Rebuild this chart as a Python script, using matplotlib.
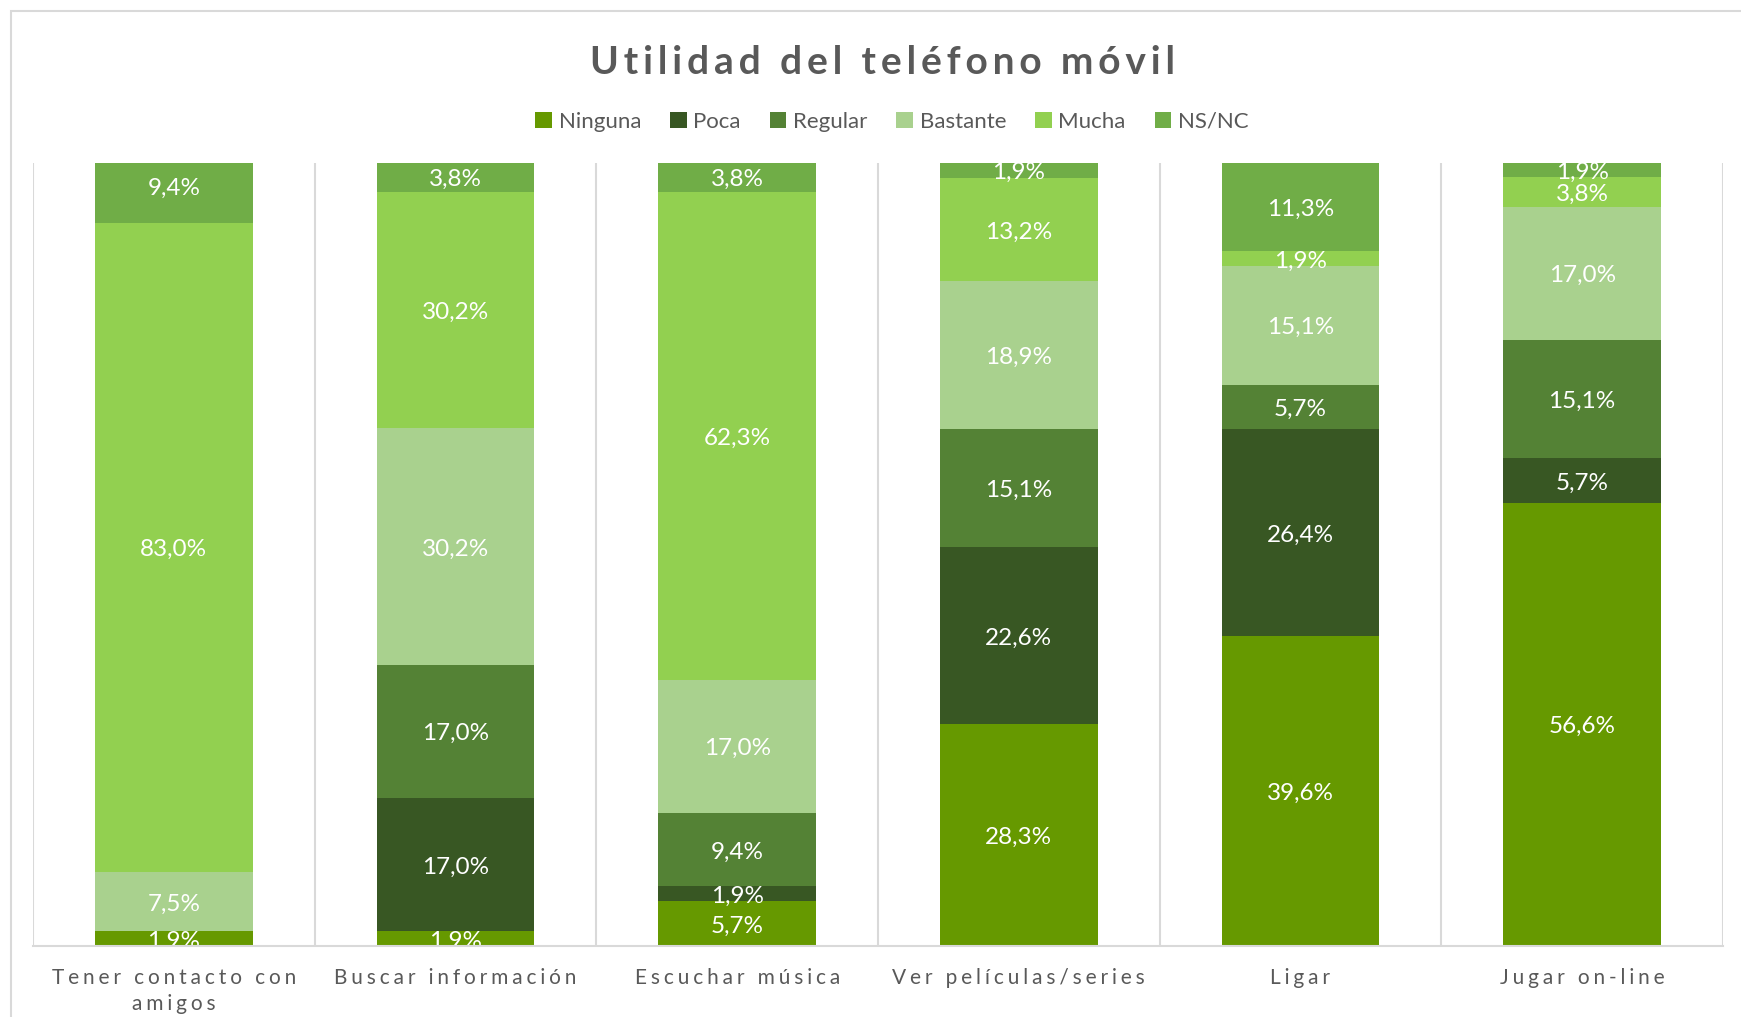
import matplotlib
matplotlib.use("Agg")
import matplotlib.pyplot as plt
from matplotlib.patches import Rectangle
import numpy as np

categories = ["Tener contacto con\namigos", "Buscar información", "Escuchar música",
              "Ver películas/series", "Ligar", "Jugar on-line"]
series_names = ["Ninguna", "Poca", "Regular", "Bastante", "Mucha", "NS/NC"]
ninguna  = [1.9, 1.9, 5.7, 28.3, 39.6, 56.6]
poca     = [0.0, 17.0, 1.9, 22.6, 26.4, 5.7]
regular  = [0.0, 17.0, 9.4, 15.1, 5.7, 15.1]
bastante = [7.5, 30.2, 17.0, 18.9, 15.1, 17.0]
mucha    = [83.0, 30.2, 62.3, 13.2, 1.9, 3.8]
nsnc     = [9.4, 3.8, 3.8, 1.9, 11.3, 1.9]
values = [ninguna, poca, regular, bastante, mucha, nsnc]
colors = ["#669900", "#385723", "#548235", "#A9D18E", "#92D050", "#70AD47"]

FONT = ["Lato", "DejaVu Sans"]
plt.rcParams["font.family"] = FONT

def spaced(s, sep="\u200a"):
    return "\n".join(sep.join(list(line)) for line in s.split("\n"))

W, H = 1741, 1017
fig = plt.figure(figsize=(W / 100, H / 100), dpi=100)
fig.patch.set_facecolor("white")
# outer border
fig.add_artist(Rectangle((11 / W, -0.01), 1.02, 1 - 11 / H + 0.01, transform=fig.transFigure,
                         fill=False, edgecolor="#d9d9d9", linewidth=1.5))

ax = fig.add_axes([33 / W, 1 - 946 / H, (1723 - 33) / W, (946 - 163) / H])
x = np.arange(len(categories))
bottom = np.zeros(len(categories))
for name, vals, col in zip(series_names, values, colors):
    vals = np.array(vals)
    ax.bar(x, vals, 0.56, bottom=bottom, color=col, label=name, zorder=2)
    for xi, v, b in zip(x, vals, bottom):
        if v > 0:
            ax.text(xi, b + v / 2 - 0.3, f"{v:.1f}%".replace(".", ","), ha="center", va="center",
                    color="white", fontsize=17.5, clip_on=True, zorder=3)
    bottom += vals

ax.set_xlim(-0.5, len(categories) - 0.5)
ax.set_ylim(0, 100)
for b in np.arange(-0.5, len(categories), 1.0):
    ax.axvline(b, color="#d9d9d9", linewidth=1.5, zorder=1)
for s in ax.spines.values():
    s.set_visible(False)
ax.axhline(0, color="#d9d9d9", linewidth=1.5, zorder=4, clip_on=False)
ax.set_yticks([])
ax.set_xticks(x)
ax.set_xticklabels([spaced(c, "\u2009\u200a") for c in categories], fontsize=15, color="#595959",
                   linespacing=1.35)
ax.tick_params(axis="x", length=0, pad=16)

fig.text(883 / W, 1 - 62 / H, spaced("Utilidad del teléfono móvil", "\u2009"),
         ha="center", va="center", fontsize=28, fontweight="bold", color="#595959")

leg = fig.legend(loc="center", bbox_to_anchor=(892 / W, 1 - 122 / H), ncol=6, frameon=False,
                 fontsize=16, handlelength=0.75, handleheight=0.75, handletextpad=0.3,
                 columnspacing=1.3, labelcolor="#595959", borderpad=0)

fig.savefig("out.png", dpi=100, facecolor="white")
